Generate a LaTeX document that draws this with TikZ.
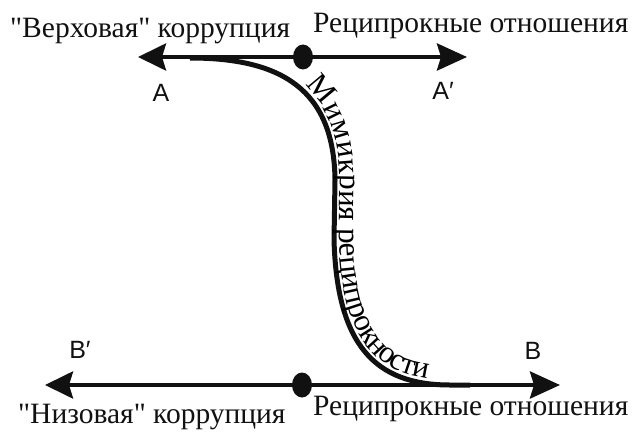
\documentclass[tikz,border=0pt]{standalone}
\usepackage{fontspec}
\setmainfont{Liberation Serif}[Ligatures=TeXOff]
\newfontfamily\pointfont{Liberation Sans}
\usepackage{tikz}
\usetikzlibrary{arrows.meta,shapes.geometric,decorations.text}
\definecolor{inkblack}{HTML}{111111}
\newcommand{\capfont}{\fontsize{29.5}{31}\selectfont}
\newcommand{\pathfont}{\fontsize{31}{33}\selectfont}

\begin{document}
\begin{tikzpicture}[x=1pt,y=1pt,
  axisline/.style={draw=inkblack, line width=4pt, {Stealth[length=28pt,width=27pt,inset=4pt]}-{Stealth[length=30pt,width=27pt,inset=4pt]}},
  dotnode/.style={ellipse, fill=inkblack, inner sep=0pt, minimum width=20pt, minimum height=25pt},
  pointlabel/.style={font=\pointfont\fontsize{25}{27}\selectfont, text=inkblack, inner sep=0pt},
  caption/.style={font=\capfont, text=inkblack, inner sep=0pt, anchor=base west}]
\useasboundingbox (0,0) rectangle (636,432);

% the two axes
\coordinate (Aend) at (138,375);
\coordinate (Apend) at (467,375);
\coordinate (Bpend) at (45,47);
\coordinate (Bend) at (560,47);
\draw[axisline] (Aend) -- (Apend);
\draw[axisline] (Bpend) -- (Bend);
\node[dotnode] (topdot) at (303,375) {};
\node[dotnode] (botdot) at (302,47) {};

% the S-shaped passage
\coordinate (sstart) at (190,374);
\coordinate (send) at (470,47);
\draw[draw=inkblack, line width=5pt] (sstart) .. controls (282,374) and (334,342) .. (335,252)
  -- (334,192) .. controls (337,87) and (375,47) .. (450,47) -- (send);
\path[decorate, decoration={text along path, raise=5pt, text align={left indent=117pt},
  text={|\pathfont|Мимикрия реципрокности}}]
  (sstart) .. controls (282,374) and (334,342) .. (335,252)
  -- (334,192) .. controls (337,87) and (375,47) .. (450,47) -- (send);

% point names
\node[pointlabel] (A) at (161,339) {A};
\node[pointlabel] (Ap) at (443,341) {A′};
\node[pointlabel] (Bp) at (80,82) {B′};
\node[pointlabel] (B) at (533,81) {B};

% captions
\node[caption] (topleft) at (10,394) {"Верховая" коррупция};
\node[caption] (topright) at (313,399) {Реципрокные отношения};
\node[caption] (botleft) at (18,9) {"Низовая" коррупция};
\node[caption] (botright) at (313,17) {Реципрокные отношения};
\end{tikzpicture}
\end{document}
